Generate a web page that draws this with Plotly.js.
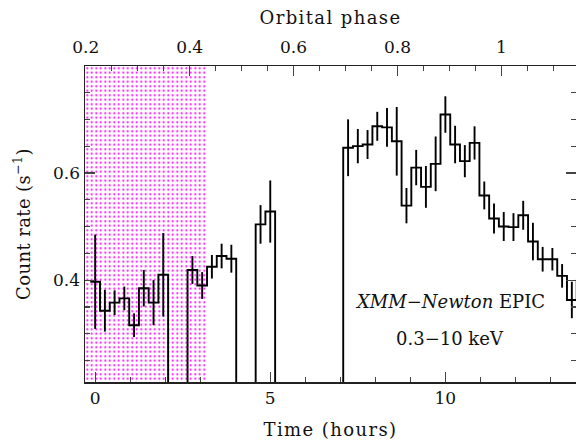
<!DOCTYPE html>
<html>
<head>
<meta charset="utf-8">
<script src="https://cdn.plot.ly/plotly-3.0.1.min.js"></script>
<style>
  html, body { margin: 0; padding: 0; background: #fff; }
  #plot { width: 576px; height: 442px; }
  #plot .xtitle, #plot .x2title { letter-spacing: 1.4px; }
  #plot .ytitle { letter-spacing: 0.4px; }
</style>
</head>
<body>
<div id="plot"></div>
<script>
// ---- data ----
const binSeconds = 1000;               // light-curve bin size
const binNumber = [0,1,2,3,4,5,6,7, 10,11,12,13,14, 17,18,
  26,27,28,29,30,31,32,33,34,35,36,37,38,39,40,41,42,43,44,45,46,47,48,49,50];
const countRate = [0.397,0.343,0.358,0.366,0.316,0.385,0.358,0.410,
  0.419,0.390,0.425,0.445,0.440,
  0.504,0.528,
  0.647,0.650,0.653,0.687,0.685,0.659,0.539,0.610,0.574,0.617,0.709,0.653,0.622,0.656,
  0.558,0.515,0.500,0.499,0.521,0.472,0.439,0.439,0.408,0.363,0.399];
const rateError = [0.088,0.039,0.023,0.022,0.022,0.034,0.042,0.078,
  0.026,0.025,0.022,0.023,0.026,
  0.036,0.058,
  0.053,0.032,0.027,0.027,0.036,0.064,0.033,0.033,0.039,0.051,0.034,0.035,0.030,0.031,
  0.026,0.028,0.027,0.026,0.027,0.035,0.023,0.021,0.022,0.034,0.030];
const shadedTime = [-0.5, 3.16];       // hatched interval (hours)
const timeTicks = [0, 5, 10];
const phaseTicks = [0.2, 0.4, 0.6, 0.8, 1];
const rateTicks = [0.4, 0.6];
const timeRange = [-0.29, 13.73];
const phaseRange = [0.1985, 1.1437];
const rateRange = [0.21, 0.7995];

// ---- derived ----
const binHours = binSeconds / 3600;
const tCenter = binNumber.map(k => k * binHours);

// build histogram step path, dropping to the floor at gaps
const stepX = [], stepY = [];
const floor = 0;
for (let i = 0; i < binNumber.length; i++) {
  const left = tCenter[i] - binHours / 2, right = tCenter[i] + binHours / 2;
  const newSeg = i === 0 || binNumber[i] !== binNumber[i - 1] + 1;
  if (newSeg && i > 0) { stepX.push(left); stepY.push(floor); }
  stepX.push(left, right); stepY.push(countRate[i], countRate[i]);
  const endSeg = i < binNumber.length - 1 && binNumber[i + 1] !== binNumber[i] + 1;
  if (endSeg) { stepX.push(right, null); stepY.push(floor, null); }
}

const FONT = 'DejaVu Serif';
const traces = [
  { x: [shadedTime[0], shadedTime[1], shadedTime[1], shadedTime[0], shadedTime[0]],
    y: [0, 0, 1, 1, 0], mode: 'none', fill: 'toself', fillcolor: 'rgba(0,0,0,0)',
    fillpattern: { shape: '.', fgcolor: '#ff00ff', bgcolor: '#ffffff', size: 4.5, solidity: 0.16 },
    hoverinfo: 'skip', showlegend: false },
  { x: stepX, y: stepY, mode: 'lines', line: { color: '#000', width: 1.9 },
    showlegend: false, hoverinfo: 'skip' },
  { x: tCenter, y: countRate, mode: 'markers', marker: { size: 1, color: 'rgba(0,0,0,0)' },
    error_y: { type: 'data', array: rateError, visible: true, color: '#000', thickness: 1.9, width: 0 },
    showlegend: false },
  { x: [0.5], y: [0.5], xaxis: 'x2', mode: 'markers', marker: { size: 1, color: 'rgba(0,0,0,0)' }, showlegend: false }
];

const axisCommon = {
  showgrid: false, zeroline: false, showline: true, linecolor: '#222', linewidth: 1.5,
  ticks: 'inside', ticklen: 10, tickwidth: 1.2, tickcolor: '#444',
  tickfont: { family: FONT, size: 17, color: '#111' }
};

const layout = {
  width: 576, height: 442,
  margin: { l: 84.5, r: 0, t: 66, b: 60 },
  paper_bgcolor: '#fff', plot_bgcolor: '#fff',
  font: { family: FONT, color: '#111' },
  xaxis: Object.assign({}, axisCommon, {
    range: timeRange, tickmode: 'array', tickvals: timeTicks, mirror: true,
    ticklabelstandoff: 0,
    minor: { dtick: 1, tick0: 0, ticks: 'inside', ticklen: 5, tickcolor: '#444', tickwidth: 1.2 },
    title: { text: 'Time (hours)', font: { family: FONT, size: 18, color: '#111' }, standoff: 16 }
  }),
  xaxis2: Object.assign({}, axisCommon, {
    overlaying: 'x', side: 'top', anchor: 'y',
    range: phaseRange, tickmode: 'array', tickvals: phaseTicks,
    ticklabelstandoff: 5,
    minor: { dtick: 0.05, tick0: 0, ticks: 'inside', ticklen: 5, tickcolor: '#444', tickwidth: 1.2 },
    title: { text: 'Orbital phase', font: { family: FONT, size: 18, color: '#111' }, standoff: 7 }
  }),
  yaxis: Object.assign({}, axisCommon, {
    range: rateRange, tickmode: 'array', tickvals: rateTicks, mirror: 'ticks',
    minor: { dtick: 0.05, tick0: 0, ticks: 'inside', ticklen: 5, tickcolor: '#444', tickwidth: 1.2 },
    title: { text: 'Count rate (s<sup>\u22121</sup>)', font: { family: FONT, size: 18, color: '#111' }, standoff: 18 }
  }),
  annotations: [
    { xref: 'paper', yref: 'paper', x: 0.743, y: 0.254, xanchor: 'center', yanchor: 'middle', showarrow: false,
      text: '<i>XMM\u2212Newton</i> EPIC', font: { family: FONT, size: 18, color: '#111' } },
    { xref: 'paper', yref: 'paper', x: 0.743, y: 0.138, xanchor: 'center', yanchor: 'middle', showarrow: false,
      text: '0.3\u221210 keV', font: { family: FONT, size: 18, color: '#111' } }
  ]
};

Plotly.newPlot('plot', traces, layout, { staticPlot: true, displayModeBar: false });
</script>
</body>
</html>
